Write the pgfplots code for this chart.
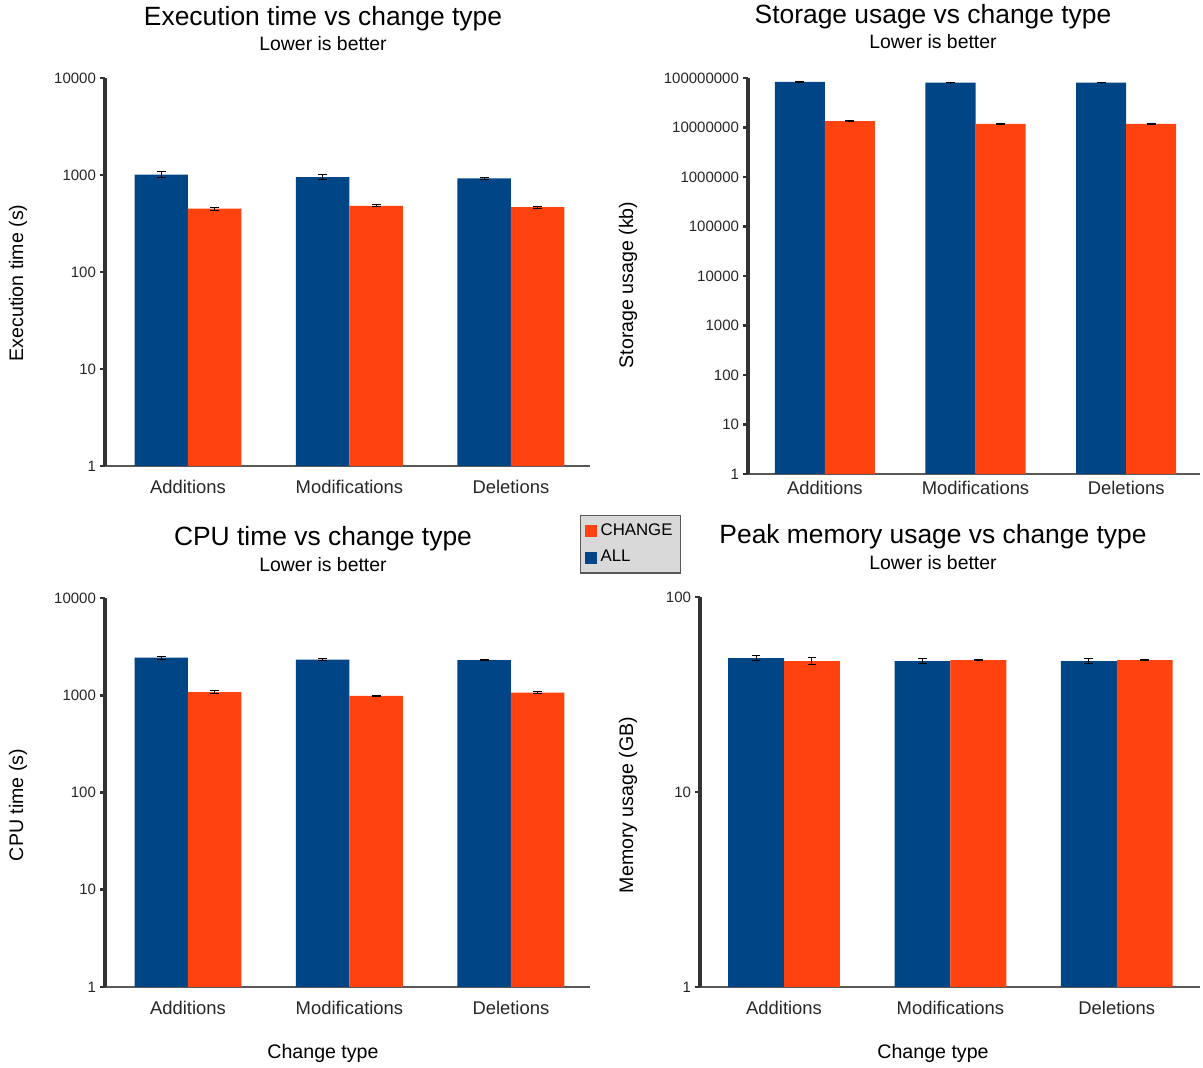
\documentclass[border=0pt]{standalone}
\usepackage{fontspec}
\setmainfont{Liberation Sans}
\usepackage{pgfplots}
\pgfplotsset{compat=1.18}
\definecolor{allc}{HTML}{004586}
\definecolor{chg}{HTML}{FF420E}
\definecolor{axisc}{HTML}{333333}
\pgfplotsset{
  mypanel/.style={
    scale only axis, ymin=1,
    ybar=0pt,
    axis lines*=left,
    enlargelimits=false, clip=false,
    x axis line style={line width=0.7pt, color=black!65},
    y axis line style={line width=1.8pt, color=axisc},
    xtick={0,1,2}, xticklabels={Additions,Modifications,Deletions},
    x tick label style={font=\fontsize{9.2}{10}\selectfont, color=black!85, yshift=-1pt},
    y tick label style={font=\fontsize{7.5}{8}\selectfont, color=black!85, xshift=1.5pt},
    major x tick style={draw=none},
    major y tick style={line width=1.4pt, color=axisc},
    major tick length=2.5pt, tick align=outside,
    yminorticks=false,
  },
  allbar/.style={fill=allc, draw=none, forget plot,
    error bars/.cd, y dir=both, y explicit,
    error bar style={black, line width=0.5pt},
    error mark options={rotate=90, mark size=2.2pt, black, line width=0.5pt}},
  chgbar/.style={fill=chg, draw=none, forget plot,
    error bars/.cd, y dir=both, y explicit,
    error bar style={black, line width=0.5pt},
    error mark options={rotate=90, mark size=2.2pt, black, line width=0.5pt}},
}
\begin{document}
\begin{tikzpicture}
\path[use as bounding box] (0,0) rectangle (601.5pt,534pt);
% ---------- Panel 1 ----------
\begin{axis}[mypanel, ymode=log, at={(52.5pt,301pt)}, anchor=south west,
  width=242.5pt, height=194pt, xmin=-0.514, xmax=2.49, bar width=0.331,
  ymax=10000, ytick={1,10,100,1000,10000}, yticklabels={1,10,100,1000,10000},
  legend style={at={(0.979,-0.126)}, anchor=north west, fill=black!15, draw=black!65,
    line width=0.8pt, font=\fontsize{8.4}{9}\selectfont, inner xsep=2pt, inner ysep=2pt,
    row sep=2pt, cells={anchor=west}},
]
\addplot[bar shift=-0.1655, allbar] coordinates {(0,1010) +- (0,70) (1,950) +- (0,50) (2,925) +- (0,25)};
\addplot[bar shift=0.1655, chgbar] coordinates {(0,450) +- (0,15) (1,480) +- (0,12) (2,465) +- (0,12)};
\addlegendimage{legend image code/.code={\fill[chg] (0pt,-2.6pt) rectangle (5.2pt,2.6pt);}}
\addlegendentry{CHANGE}
\addlegendimage{legend image code/.code={\fill[allc] (0pt,-2.6pt) rectangle (5.2pt,2.6pt);}}
\addlegendentry{ALL}
\end{axis}
% ---------- Panel 2 ----------
\begin{axis}[mypanel, ymode=log, at={(374pt,297pt)}, anchor=south west,
  width=226pt, height=198pt, xmin=-0.51, xmax=2.49, bar width=0.332,
  ymax=100000000, ytick={1,10,100,1000,10000,100000,1000000,10000000,100000000},
  yticklabels={1,10,100,1000,10000,100000,1000000,10000000,100000000},
  x tick label style={yshift=3.5pt},
]
\addplot[bar shift=-0.166, allbar] coordinates {(0,83000000) +- (0,800000) (1,81000000) +- (0,600000) (2,81000000) +- (0,600000)};
\addplot[bar shift=0.166, chgbar] coordinates {(0,13500000) +- (0,200000) (1,11800000) +- (0,150000) (2,11800000) +- (0,150000)};
\end{axis}
% ---------- Panel 3 ----------
\begin{axis}[mypanel, ymode=log, at={(52.5pt,40.5pt)}, anchor=south west,
  width=242.5pt, height=194.5pt, xmin=-0.514, xmax=2.49, bar width=0.331,
  ymax=10000, ytick={1,10,100,1000,10000}, yticklabels={1,10,100,1000,10000},
]
\addplot[bar shift=-0.1655, allbar] coordinates {(0,2430) +- (0,100) (1,2330) +- (0,60) (2,2300) +- (0,50)};
\addplot[bar shift=0.1655, chgbar] coordinates {(0,1077) +- (0,35) (1,986) +- (0,15) (2,1066) +- (0,35)};
\end{axis}
% ---------- Panel 4 ----------
\begin{axis}[mypanel, ymode=log, at={(350pt,40.5pt)}, anchor=south west,
  width=250pt, height=195pt, xmin=-0.505, xmax=2.50, bar width=0.336,
  ymax=100, ytick={1,10,100}, yticklabels={1,10,100},
]
\addplot[bar shift=-0.168, allbar] coordinates {(0,48.6) +- (0,1.5) (1,46.9) +- (0,1.3) (2,46.9) +- (0,1.3)};
\addplot[bar shift=0.168, chgbar] coordinates {(0,46.9) +- (0,1.8) (1,47.5) +- (0,0.3) (2,47.5) +- (0,0.3)};
\end{axis}
% ---------- Titles ----------
\node[font=\fontsize{13.2}{15}\selectfont] at (161.5pt,524.5pt) {Execution time vs change type};
\node[font=\fontsize{9.7}{11}\selectfont] at (161.5pt,512pt) {Lower is better};
\node[font=\fontsize{13.2}{15}\selectfont] at (466.5pt,525.5pt) {Storage usage vs change type};
\node[font=\fontsize{9.7}{11}\selectfont] at (466.5pt,513pt) {Lower is better};
\node[font=\fontsize{13.2}{15}\selectfont] at (161.5pt,264.5pt) {CPU time vs change type};
\node[font=\fontsize{9.7}{11}\selectfont] at (161.5pt,251.5pt) {Lower is better};
\node[font=\fontsize{13.2}{15}\selectfont] at (466.5pt,265.5pt) {Peak memory usage vs change type};
\node[font=\fontsize{9.7}{11}\selectfont] at (466.5pt,252.5pt) {Lower is better};
% ---------- Axis labels ----------
\node[rotate=90, font=\fontsize{9.8}{11}\selectfont] at (9pt,392.5pt) {Execution time (s)};
\node[rotate=90, font=\fontsize{9.8}{11}\selectfont] at (314pt,391.5pt) {Storage usage (kb)};
\node[rotate=90, font=\fontsize{9.8}{11}\selectfont] at (9pt,131.5pt) {CPU time (s)};
\node[rotate=90, font=\fontsize{9.8}{11}\selectfont] at (314pt,131.5pt) {Memory usage (GB)};
\node[font=\fontsize{9.8}{11}\selectfont] at (161.5pt,7.5pt) {Change type};
\node[font=\fontsize{9.8}{11}\selectfont] at (466.5pt,7.5pt) {Change type};
\end{tikzpicture}
\end{document}
